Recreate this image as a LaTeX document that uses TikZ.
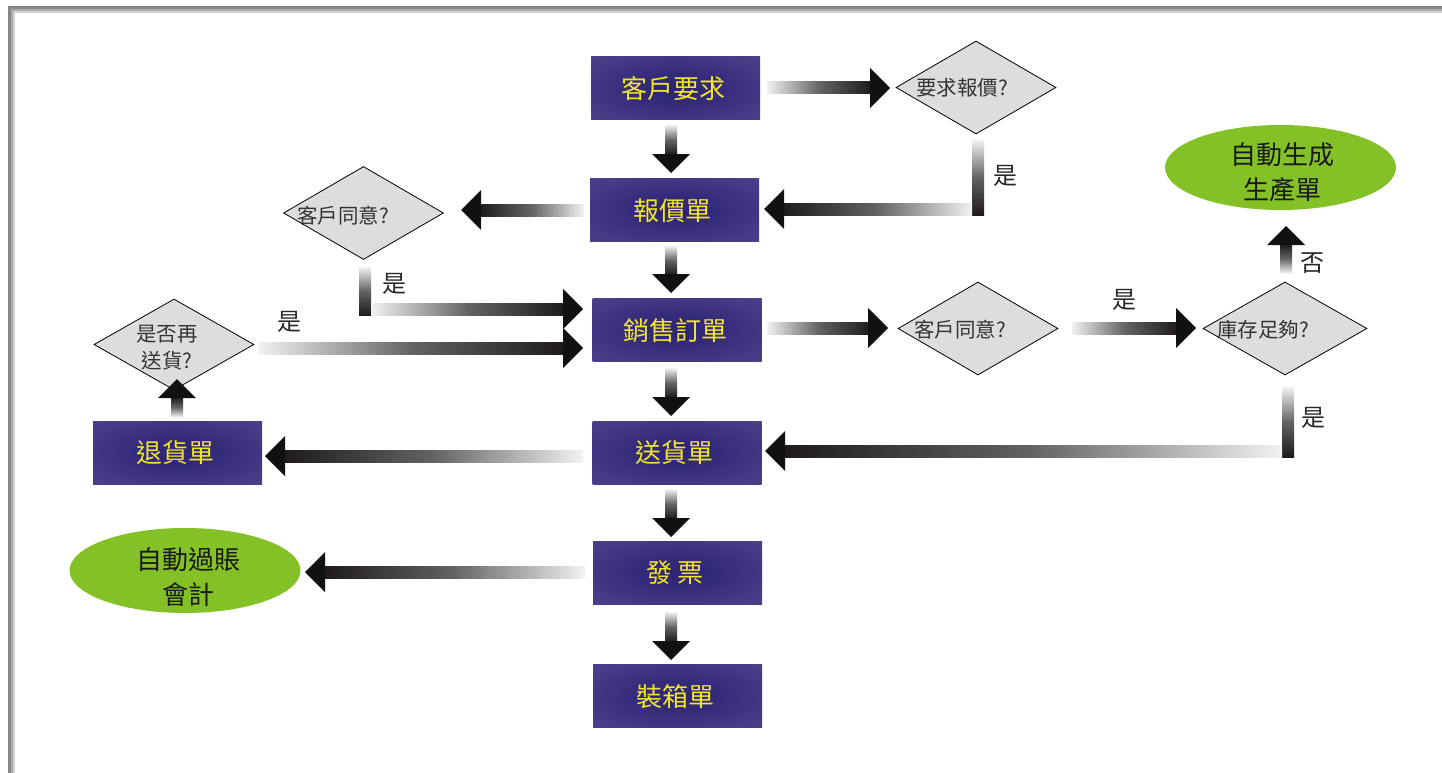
\documentclass[tikz,border=0pt]{standalone}
\usepackage{fontspec}
\newfontfamily\cjk{Noto Sans CJK TC}
\usetikzlibrary{shapes.geometric,calc}
\definecolor{pdark}{RGB}{46,36,118}
\definecolor{pmid}{RGB}{78,68,140}
\definecolor{plight}{RGB}{94,84,150}
\definecolor{ptext}{RGB}{242,230,40}
\definecolor{dfill}{RGB}{221,221,221}
\definecolor{gfill}{RGB}{132,193,38}
\definecolor{alight}{RGB}{242,242,242}
\definecolor{amid}{RGB}{100,98,98}
\definecolor{adark}{RGB}{30,26,26}
\definecolor{ahead}{RGB}{17,17,17}
\definecolor{fr1}{RGB}{135,135,135}
\definecolor{fr2}{RGB}{172,172,172}
\definecolor{fr3}{RGB}{210,210,210}
\pgfdeclareradialshading{pboxshade}{\pgfpoint{0bp}{0bp}}{color(0bp)=(pdark); color(12bp)=(pdark!80!pmid); color(38bp)=(pmid); color(55bp)=(plight); color(70bp)=(plight)}
\tikzset{
  pbox/.style={rectangle, shade, shading=pboxshade, minimum width=169pt, minimum height=63pt, inner sep=0pt},
  ptxt/.style={text=ptext, font=\cjk\fontsize{26}{30}\selectfont, inner sep=0pt},
  dbox/.style={diamond, draw=black, line width=0.8pt, fill=dfill, minimum width=160pt, minimum height=93pt, inner sep=0pt},
  dtxt/.style={text=black!80, font=\cjk\fontsize{20.5}{27}\selectfont, inner sep=0pt, align=center},
  gbox/.style={ellipse, fill=gfill, minimum width=231pt, minimum height=85pt, inner sep=0pt},
  gtxt/.style={text=black!90, font=\cjk\fontsize{26}{35}\selectfont, inner sep=0pt, align=center},
  lab/.style={text=black!85, font=\cjk\fontsize{24}{28}\selectfont, inner sep=0pt},
  headfill/.style={fill=ahead}
}
% arrows: #1 tail coordinate, #2 tip coordinate
\newcommand\arrRight[2]{%
  \shade[left color=alight, right color=adark, middle color=amid] ($(#1)+(0,-6)$) rectangle ($(#2)+(-18,6)$);
  \fill[headfill] (#2) -- ($(#2)+(-20,-20)$) -- ($(#2)+(-20,20)$) -- cycle;}
\newcommand\arrLeft[2]{%
  \shade[left color=adark, right color=alight, middle color=amid] ($(#2)+(18,-6)$) rectangle ($(#1)+(0,6)$);
  \fill[headfill] (#2) -- ($(#2)+(20,-20)$) -- ($(#2)+(20,20)$) -- cycle;}
\newcommand\arrDown[2]{%
  \shade[top color=alight, bottom color=adark, middle color=amid] ($(#1)+(-6,0)$) rectangle ($(#2)+(6,-18)$);
  \fill[headfill] (#2) -- ($(#2)+(-19,-19)$) -- ($(#2)+(19,-19)$) -- cycle;}
\newcommand\arrUp[2]{%
  \shade[top color=adark, bottom color=alight, middle color=amid] ($(#2)+(-6,18)$) rectangle ($(#1)+(6,0)$);
  \fill[headfill] (#2) -- ($(#2)+(-19,19)$) -- ($(#2)+(19,19)$) -- cycle;}
\newcommand\vBar[2]{%
  \shade[top color=alight, bottom color=adark, middle color=amid] ($(#1)+(-6,0)$) rectangle ($(#2)+(6,0)$);}
\begin{document}
\begin{tikzpicture}[x=1pt,y=-1pt]
\useasboundingbox (0,0) rectangle (1442,773);
\fill[white] (0,0) rectangle (1442,773);
% frame
\fill[fr1] (8,6) rectangle (1442,773);
\fill[fr2] (11,9) rectangle (1442,773);
\fill[fr3] (13,11) rectangle (1442,773);
\fill[white] (15,13) rectangle (1442,773);

% purple boxes
\node[pbox] (req) at (675.5,88.5) {};
\node[ptxt] (reqt) at (673,89) {客戶要求};
\node[pbox] (quote) at (674.5,210) {};
\node[ptxt] (quotet) at (672,211) {報價單};
\node[pbox] (order) at (677,330) {};
\node[ptxt] (ordert) at (675,331) {銷售訂單};
\node[pbox] (ship) at (677,452.5) {};
\node[ptxt] (shipt) at (674,453) {送貨單};
\node[pbox] (inv) at (677.5,572.5) {};
\node[ptxt] (invt) at (675,573) {發\,票};
\node[pbox] (pack) at (677.5,696) {};
\node[ptxt] (packt) at (675,697) {裝箱單};
\node[pbox] (ret) at (177.5,452.5) {};
\node[ptxt] (rett) at (175,453) {退貨單};

% diamonds
\node[dbox] (dq) at (976,87.5) {};
\node[dtxt] (dqt) at (962,88) {要求報價?};
\node[dbox] (dl) at (363.5,213) {};
\node[dtxt] (dlt) at (343,216) {客戶同意?};
\node[dbox] (dr) at (978,328.5) {};
\node[dtxt] (drt) at (960,330) {客戶同意?};
\node[dbox, minimum width=164pt] (ds) at (1285,328.5) {};
\node[dtxt] (dst) at (1263,330) {庫存足夠?};
\node[dbox, minimum height=91pt] (dre) at (174,344.5) {};
\node[dtxt] (dret) at (167,348) {是否再\\送貨?};

% ellipses
\node[gbox] (gprod) at (1280.5,167.5) {};
\node[gtxt] (gprodt) at (1282,172) {自動生成\\生產單};
\node[gbox] (gacc) at (185,570.5) {};
\node[gtxt] (gacct) at (188,577) {自動過賬\\會計};

% connector coordinates
\coordinate (a1t) at (767,88);   \coordinate (a1h) at (890,88);
\coordinate (a2t) at (671,125);  \coordinate (a2h) at (671,173);
\coordinate (a3v1) at (978,140); \coordinate (a3v2) at (978,215);
\coordinate (a3t) at (972,209);  \coordinate (a3h) at (764,209);
\coordinate (a4t) at (584,210);  \coordinate (a4h) at (461,210);
\coordinate (a5v1) at (365,267); \coordinate (a5v2) at (365,315);
\coordinate (a5t) at (371,309);  \coordinate (a5h) at (583,309);
\coordinate (a6t) at (671,246);  \coordinate (a6h) at (671,293);
\coordinate (a7t) at (258,348);  \coordinate (a7h) at (583,348);
\coordinate (a8t) at (767,328);  \coordinate (a8h) at (888,328);
\coordinate (a9t) at (1072,328); \coordinate (a9h) at (1196,328);
\coordinate (a10t) at (1286,273); \coordinate (a10h) at (1286,226);
\coordinate (a11v1) at (1288,387); \coordinate (a11v2) at (1288,457);
\coordinate (a11t) at (1282,451); \coordinate (a11h) at (765,451);
\coordinate (a12t) at (671,368); \coordinate (a12h) at (671,416);
\coordinate (a13t) at (583,456); \coordinate (a13h) at (265,456);
\coordinate (a14t) at (177,417); \coordinate (a14h) at (177,379);
\coordinate (a15t) at (671,489); \coordinate (a15h) at (671,537);
\coordinate (a16t) at (585,572); \coordinate (a16h) at (305,572);
\coordinate (a17t) at (671,612); \coordinate (a17h) at (671,660);

% connectors
\arrRight{a1t}{a1h}
\arrDown{a2t}{a2h}
\vBar{a3v1}{a3v2}
\arrLeft{a3t}{a3h}
\arrLeft{a4t}{a4h}
\vBar{a5v1}{a5v2}
\arrRight{a5t}{a5h}
\arrDown{a6t}{a6h}
\arrRight{a7t}{a7h}
\arrRight{a8t}{a8h}
\arrRight{a9t}{a9h}
\arrUp{a10t}{a10h}
\vBar{a11v1}{a11v2}
\arrLeft{a11t}{a11h}
\arrDown{a12t}{a12h}
\arrLeft{a13t}{a13h}
\arrUp{a14t}{a14h}
\arrDown{a15t}{a15h}
\arrLeft{a16t}{a16h}
\arrDown{a17t}{a17h}

% labels
\node[lab] (l1) at (1005,176) {是};
\node[lab] (l2) at (394,284) {是};
\node[lab] (l3) at (289,322) {是};
\node[lab] (l4) at (1124,300) {是};
\node[lab] (l5) at (1312,263) {否};
\node[lab] (l6) at (1313,418) {是};
\end{tikzpicture}
\end{document}
